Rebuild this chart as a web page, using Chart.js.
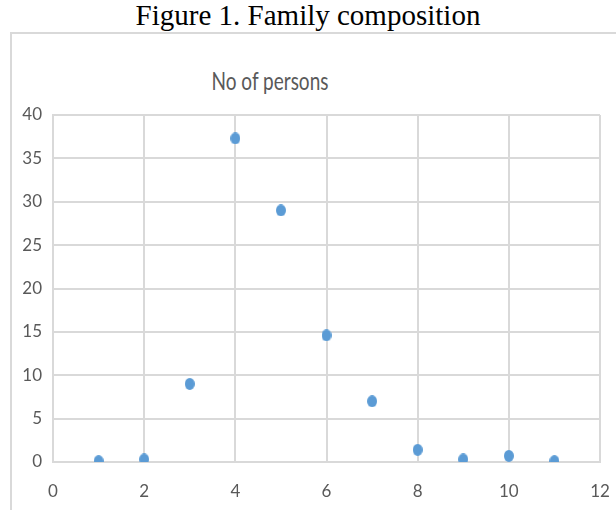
<!DOCTYPE html>
<html>
<head>
<meta charset="utf-8">
<script src="https://cdn.jsdelivr.net/npm/chart.js@4/dist/chart.umd.min.js"></script>
<style>
  html, body { margin: 0; padding: 0; background: #ffffff; }
  #wrap { position: relative; width: 616px; height: 510px; overflow: hidden; }
  #figTitle {
    position: absolute; left: 0; top: 0; width: 616px; text-align: center;
    font-family: "Liberation Serif", "Times New Roman", serif; font-size: 29px;
    line-height: 30px; color: #000;
  }
  #frame {
    position: absolute; left: 10px; top: 32px; width: 700px; height: 600px;
    border-left: 2px solid #d9d9d9; border-top: 2px solid #d9d9d9;
  }
  #chartTitle {
    position: absolute; left: 170px; top: 68px; width: 200px; text-align: center;
    font-family: Lato, "Open Sans", sans-serif; font-size: 19px; line-height: 26px;
    color: #595959; transform: scaleY(1.28); transform-origin: 50% 50%;
  }
  #c { position: absolute; left: 0; top: 0; }
</style>
</head>
<body>
<div id="wrap">
  <div id="figTitle">Figure 1. Family composition</div>
  <div id="frame"></div>
  <div id="chartTitle"></div>
  <canvas id="c" width="616" height="510"></canvas>
</div>
<script>
// Family size (persons per family) and the share of families of that size
const familySize = [1, 2, 3, 4, 5, 6, 7, 8, 9, 10, 11];
const persons = [0.1, 0.3, 9.0, 37.3, 29.0, 14.6, 7.0, 1.4, 0.3, 0.7, 0.1];
const xTicks = [0, 2, 4, 6, 8, 10, 12];
const yTicks = [0, 5, 10, 15, 20, 25, 30, 35, 40];

const chartTitle = 'No of persons';
const markerColor = '#5B9BD5';
const gridColor = '#d9d9d9';
const labelColor = '#595959';
const labelFont = 'Lato, "Open Sans", sans-serif';

document.getElementById('chartTitle').textContent = chartTitle;

// Slightly tall oval marker
function ovalMarker(w, h, color) {
  const cv = document.createElement('canvas');
  cv.width = w; cv.height = h;
  const g = cv.getContext('2d');
  g.fillStyle = color;
  g.beginPath();
  g.ellipse(w / 2, h / 2, w / 2, h / 2, 0, 0, Math.PI * 2);
  g.fill();
  return cv;
}
const marker = ovalMarker(10, 12, markerColor);

const points = familySize.map((x, i) => ({ x: x, y: persons[i] }));

new Chart(document.getElementById('c'), {
  type: 'scatter',
  data: {
    datasets: [{
      label: chartTitle,
      data: points,
      pointStyle: marker,
      backgroundColor: markerColor,
      borderWidth: 0
    }]
  },
  options: {
    responsive: false,
    animation: false,
    layout: { padding: { top: 115, right: 16, left: 0, bottom: 0 } },
    plugins: {
      legend: { display: false },
      tooltip: { enabled: false },
      title: { display: false }
    },
    scales: {
      x: {
        type: 'linear',
        min: xTicks[0], max: xTicks[xTicks.length - 1],
        afterBuildTicks: s => { s.ticks = xTicks.map(v => ({ value: v })); },
        afterFit: s => { s.height = 48; s.paddingLeft = 0; s.paddingRight = 0; },
        grid: { color: gridColor, lineWidth: 2, drawTicks: false },
        border: { display: true, color: gridColor, width: 2 },
        ticks: { color: labelColor, padding: 19, font: { family: labelFont, size: 17 } }
      },
      y: {
        type: 'linear',
        min: yTicks[0], max: yTicks[yTicks.length - 1],
        afterBuildTicks: s => { s.ticks = yTicks.map(v => ({ value: v })); },
        afterFit: s => { s.width = 53; s.paddingTop = 0; s.paddingBottom = 0; },
        grid: { color: gridColor, lineWidth: 2, drawTicks: false },
        border: { display: true, color: gridColor, width: 2 },
        ticks: { color: labelColor, padding: 11, font: { family: labelFont, size: 17 } }
      }
    }
  }
});
</script>
</body>
</html>
